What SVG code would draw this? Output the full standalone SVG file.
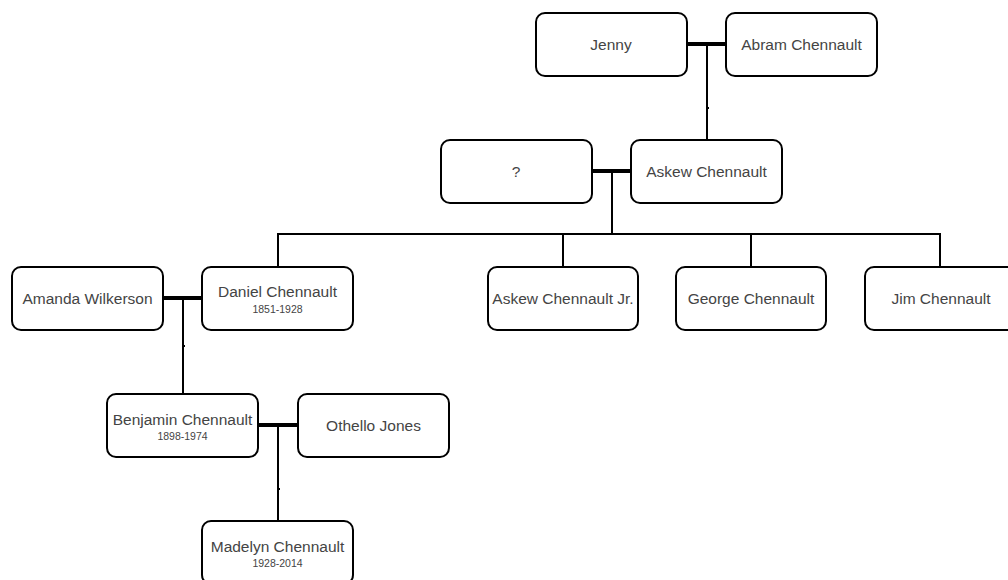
<svg xmlns="http://www.w3.org/2000/svg" width="1008" height="580" viewBox="0 0 1008 580">
<style>
.box{fill:#fff;stroke:#000;stroke-width:2}
.nm{font-family:"Liberation Sans",Arial,sans-serif;font-size:15.5px;fill:#444;text-anchor:middle}
.dt{font-family:"Liberation Sans",Arial,sans-serif;font-size:10.5px;fill:#444;text-anchor:middle}
.couple{stroke:#000;stroke-width:4;fill:none}
.child{stroke:#000;stroke-width:2;fill:none}
.tick{fill:#000}
</style>
<rect width="1008" height="580" fill="#fff"/>
<g id="connectors">
<path class="couple" d="M687,44H726"/>
<path class="child" d="M707,44V139"/>
<path class="couple" d="M592,171H631"/>
<path class="child" d="M612,171V234"/>
<path class="child" d="M278,234H940M278,233V266M563,234V266M751,234V266M940,233V266"/>
<path class="couple" d="M164,298H202"/>
<path class="child" d="M183,298V393"/>
<path class="couple" d="M259,425H298"/>
<path class="child" d="M278,425V520"/>
<rect class="tick" x="706" y="107" width="3" height="2"/>
<rect class="tick" x="182" y="345" width="3" height="2"/>
<rect class="tick" x="277" y="488" width="3" height="2"/>
</g>
<g id="jenny"><rect class="box" x="536" y="13" width="151" height="63" rx="9"/><text class="nm" x="611" y="50">Jenny</text></g>
<g id="abram"><rect class="box" x="726" y="13" width="151" height="63" rx="9"/><text class="nm" x="801.5" y="50">Abram Chennault</text></g>
<g id="unknown"><rect class="box" x="441" y="140" width="151" height="63" rx="9"/><text class="nm" x="516" y="177">?</text></g>
<g id="askew"><rect class="box" x="631" y="140" width="151" height="63" rx="9"/><text class="nm" x="706.5" y="177">Askew Chennault</text></g>
<g id="amanda"><rect class="box" x="12" y="267" width="151" height="63" rx="9"/><text class="nm" x="87.5" y="304">Amanda Wilkerson</text></g>
<g id="daniel"><rect class="box" x="202" y="267" width="151" height="63" rx="9"/><text class="nm" x="277.5" y="296.5">Daniel Chennault</text><text class="dt" x="277.5" y="313">1851-1928</text></g>
<g id="askewjr"><rect class="box" x="488" y="267" width="150" height="63" rx="9"/><text class="nm" x="563" y="304">Askew Chennault Jr.</text></g>
<g id="george"><rect class="box" x="676" y="267" width="150" height="63" rx="9"/><text class="nm" x="751" y="304">George Chennault</text></g>
<g id="jim"><rect class="box" x="865" y="267" width="151" height="63" rx="9"/><text class="nm" x="941" y="304">Jim Chennault</text></g>
<g id="benjamin"><rect class="box" x="107" y="394" width="151" height="63" rx="9"/><text class="nm" x="182.5" y="424.5">Benjamin Chennault</text><text class="dt" x="182.5" y="440">1898-1974</text></g>
<g id="othello"><rect class="box" x="298" y="394" width="151" height="63" rx="9"/><text class="nm" x="373.5" y="431">Othello Jones</text></g>
<g id="madelyn"><rect class="box" x="202" y="521" width="151" height="63" rx="9"/><text class="nm" x="277.5" y="551.5">Madelyn Chennault</text><text class="dt" x="277.5" y="567">1928-2014</text></g>
</svg>
